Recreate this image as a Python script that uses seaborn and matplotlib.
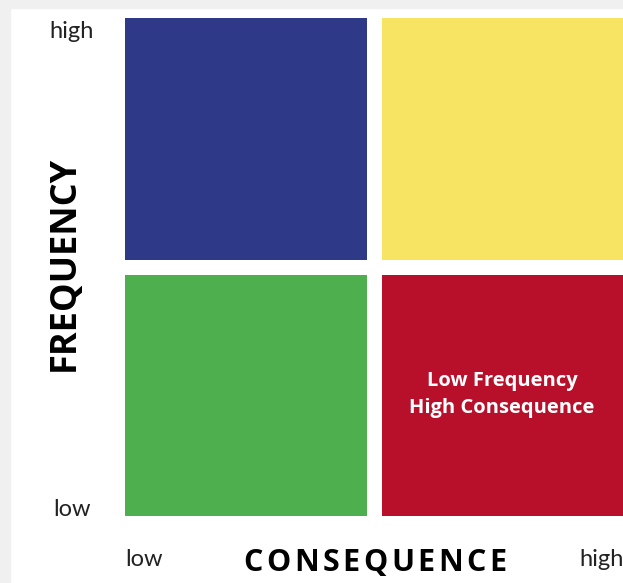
import numpy as np
import seaborn as sns
import matplotlib.pyplot as plt
from matplotlib.colors import ListedColormap
from matplotlib.patches import Rectangle

# 2x2 risk matrix: rows = frequency (high on top), cols = consequence (low -> high)
frequency_levels = ["high", "low"]
consequence_levels = ["low", "high"]
quadrant_codes = [[0, 1],
                  [2, 3]]
quadrant_labels = [["", ""],
                   ["", "Low Frequency\nHigh Consequence"]]
quadrant_colors = ["#2E3A87", "#F7E463", "#4DAF4E", "#B8102A"]

sns.set_theme(style="white")
plt.rcParams["font.family"] = ["Open Sans", "DejaVu Sans"]

W, H = 623, 583
fig = plt.figure(figsize=(W / 100, H / 100), dpi=100)

# light gray frame on the left and top (screenshot look)
fig.add_artist(Rectangle((0, 0), 10 / W, 1, transform=fig.transFigure,
                         color="#f0f0f0", zorder=0))
fig.add_artist(Rectangle((0, 1 - 8 / H), 1, 8 / H, transform=fig.transFigure,
                         color="#f0f0f0", zorder=0))

gap = 13.5  # px between cells
left = 124 - gap / 2
top = 17 - gap / 2
cell_w = 243 + gap
cell_h = (516 - 17 + gap) / 2
ax = fig.add_axes([left / W, 1 - (top + 2 * cell_h) / H,
                   2 * cell_w / W, 2 * cell_h / H])

sns.heatmap(np.array(quadrant_codes), ax=ax, cmap=ListedColormap(quadrant_colors),
            cbar=False, linewidths=gap * 0.72, linecolor="white",
            annot=np.array(quadrant_labels), fmt="",
            annot_kws={"color": "white", "fontsize": 14.5, "fontweight": "bold",
                       "linespacing": 1.45})
ax.set_xticks([])
ax.set_yticks([])
for s in ax.spines.values():
    s.set_visible(False)

# axis end labels
tick_kw = dict(fontsize=17, color="#222222", family=["Lato", "DejaVu Sans"])
fig.text(72 / W, 1 - 31 / H, frequency_levels[0], ha="center", va="center", **tick_kw)
fig.text(72 / W, 1 - 509 / H, frequency_levels[1], ha="center", va="center", **tick_kw)
fig.text(144 / W, 1 - 559 / H, consequence_levels[0], ha="center", va="center", **tick_kw)
fig.text(602 / W, 1 - 559 / H, consequence_levels[1], ha="center", va="center", **tick_kw)


def spaced_text(cx, cy, s, tracking, **kw):
    # draw text letter by letter with extra spacing (px), centred at (cx, cy) px
    r = fig.canvas.get_renderer()
    widths = []
    for ch in s:
        t = fig.text(0, 0, ch, **kw)
        widths.append(t.get_window_extent(r).width)
        t.remove()
    total = sum(widths) + tracking * (len(s) - 1)
    x = cx - total / 2
    for ch, w in zip(s, widths):
        fig.text(x / W, 1 - cy / H, ch, ha="left", va="center", **kw)
        x += w + tracking


spaced_text(375, 563, "CONSEQUENCE", 3.5,
            fontsize=22, fontweight="bold", color="black")
fig.text(65 / W, 1 - 263 / H, "FREQUENCY", ha="center", va="center", rotation=90,
         fontsize=26, fontweight="bold", color="black")

fig.savefig("out.png", dpi=100, facecolor="white")
